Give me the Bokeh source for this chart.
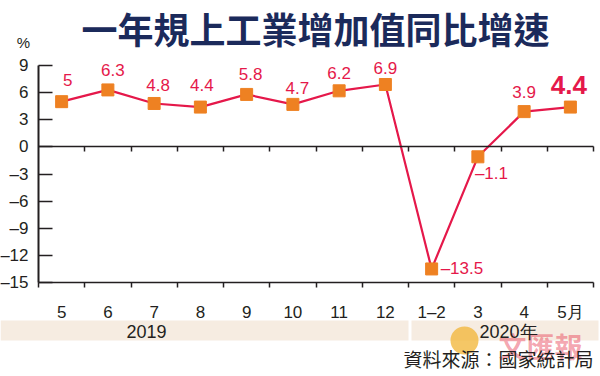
from bokeh.plotting import figure
from bokeh.models import Range1d, LinearAxis, FixedTicker, Label
from bokeh.embed import file_html
from bokeh.resources import INLINE

# ---------------- data ----------------
categories = ["5", "6", "7", "8", "9", "10", "11", "12", "1–2", "3", "4", "5月"]
growth = [5, 6.3, 4.8, 4.4, 5.8, 4.7, 6.2, 6.9, -13.5, -1.1, 3.9, 4.4]
value_labels = ["5", "6.3", "4.8", "4.4", "5.8", "4.7", "6.2", "6.9", "–13.5", "–1.1", "3.9", "4.4"]
y_ticks = [-15, -12, -9, -6, -3, 0, 3, 6, 9]
y_tick_labels = ["–15", "–12", "–9", "–6", "–3", "0", "3", "6", "9"]
years = ["2019", "2020年"]
year_first_cat = [0, 8]          # index of first category of each year
title_text = "一年規上工業增加值同比增速"
unit_text = "%"
source_text = "資料來源：國家統計局"
watermark_text = "文匯報"

# ---------------- layout / style ----------------
W, H = 600, 376
FL, FR, FT, FB = 38, 593, 65, 282     # plotting area edges (canvas px)
n = len(categories)
cw = (FR - FL) / n
ymin, ymax = y_ticks[0], y_ticks[-1]
ppu = (FB - FT) / (ymax - ymin)


def px_x(px):
    return (px - FL) / cw


def px_y(py):
    return ymin + (FB - py) / ppu


NUM_FONT = "Liberation Sans"
CJK_FONT = "Noto Sans CJK TC"
RED = "#e5184a"
ORANGE = "#ee8122"
INK = "#231f20"
NAVY = "#1b2a5b"
BAND = "#f6ece1"

# label offsets in px (dx, dy up) and alignment per point
label_dx = [6, 5, 4, 1.5, 4, 4.5, 0, 0, 9, -3, 0, -1.5]
label_dy = [22, 20, 18.5, 22, 20, 16.5, 18, 16.5, 0, -17, 19.5, 22]
label_align = ["center"] * 8 + ["left", "left"] + ["center", "center"]

p = figure(width=W, height=H, output_backend="svg", toolbar_location=None,
           x_range=Range1d(px_x(0), px_x(W)), y_range=Range1d(px_y(H), px_y(0)),
           x_axis_type=None, y_axis_type=None,
           min_border=0, min_border_left=0, min_border_right=0,
           min_border_top=0, min_border_bottom=0)
p.title.visible = False
p.outline_line_color = None
p.background_fill_color = "white"
p.border_fill_color = "white"

# year band + watermark (under everything)
band_edges = [(px_x(0), year_first_cat[1]), (year_first_cat[1] + 3 / cw, px_x(W - 2))]
p.quad(left=[b[0] for b in band_edges], right=[b[1] for b in band_edges],
       top=[px_y(320)] * 2, bottom=[px_y(340)] * 2,
       fill_color=BAND, line_color=None)
p.circle(x=[px_x(464)], y=[px_y(340)], radius=14 / cw,
         fill_color="#f2b433", fill_alpha=0.75, line_color=None)
p.add_layout(Label(x=px_x(540), y=px_y(345), text=watermark_text,
                   text_align="center", text_baseline="middle", text_color="#e8394f",
                   text_alpha=0.45, text_font=CJK_FONT, text_font_size="28px",
                   text_font_style="bold"))

# y axis
yaxis = LinearAxis(
    fixed_location=0, bounds=(ymin, ymax),
    ticker=FixedTicker(ticks=y_ticks, minor_ticks=[]),
    major_label_overrides={t: l for t, l in zip(y_ticks, y_tick_labels)},
    major_tick_in=14, major_tick_out=0, minor_tick_in=0, minor_tick_out=0,
    axis_line_width=2, axis_line_color=INK,
    major_tick_line_width=1.5, major_tick_line_color=INK,
    major_label_text_font_size="17px", major_label_text_font=NUM_FONT,
    major_label_text_color=INK, major_label_standoff=10)
p.add_layout(yaxis, "left")

# x axis: labels at category centres, ticks at boundaries
centers = [i + 0.5 for i in range(n)]
xaxis = LinearAxis(
    fixed_location=ymin, bounds=(0, n),
    ticker=FixedTicker(ticks=centers, minor_ticks=list(range(n + 1))),
    major_label_overrides={c: l for c, l in zip(centers, categories)},
    major_tick_in=0, major_tick_out=0, minor_tick_in=0, minor_tick_out=5,
    axis_line_width=1.5, axis_line_color=INK,
    minor_tick_line_width=1.5, minor_tick_line_color=INK,
    major_label_text_font_size="17px", major_label_text_font=NUM_FONT,
    major_label_text_color=INK, major_label_standoff=15)
p.add_layout(xaxis, "below")

# zero line with boundary ticks
zaxis = LinearAxis(
    fixed_location=0, bounds=(0, n),
    ticker=FixedTicker(ticks=[], minor_ticks=list(range(1, n + 1))),
    major_label_text_font_size="0px",
    major_tick_in=0, major_tick_out=0, minor_tick_in=0, minor_tick_out=5,
    axis_line_width=1.5, axis_line_color=INK,
    minor_tick_line_width=1.5, minor_tick_line_color=INK)
p.add_layout(zaxis, "below")

# series
p.line(x=centers, y=growth, line_color=RED, line_width=2.2)
p.scatter(x=centers, y=growth, marker="square", size=12,
          fill_color=ORANGE, line_color=ORANGE)

for i, (c, v, t) in enumerate(zip(centers, growth, value_labels)):
    last = i == n - 1
    p.add_layout(Label(x=c, y=v, text=t, x_offset=label_dx[i], y_offset=label_dy[i],
                       text_align=label_align[i], text_baseline="middle",
                       text_color=RED, text_font=NUM_FONT,
                       text_font_size="26px" if last else "17px",
                       text_font_style="bold" if last else "normal"))

# title and unit
p.add_layout(Label(x=px_x(315), y=px_y(27), text=title_text,
                   text_align="center", text_baseline="middle", text_color=NAVY,
                   text_font=CJK_FONT, text_font_size="36px", text_font_style="bold"))
p.add_layout(Label(x=px_x(23), y=px_y(42), text=unit_text,
                   text_align="center", text_baseline="middle", text_color=INK,
                   text_font=NUM_FONT, text_font_size="15px"))

# year labels
year_label_x = [146, 508]
for yr, lx in zip(years, year_label_x):
    p.add_layout(Label(x=px_x(lx), y=px_y(331), text=yr,
                       text_align="center", text_baseline="middle", text_color=INK,
                       text_font=NUM_FONT, text_font_size="18px"))

# source
p.add_layout(Label(x=px_x(593), y=px_y(358), text=source_text,
                   text_align="right", text_baseline="middle", text_color=INK,
                   text_font=CJK_FONT, text_font_size="19px"))

open("out.html", "w").write(file_html(p, INLINE))
